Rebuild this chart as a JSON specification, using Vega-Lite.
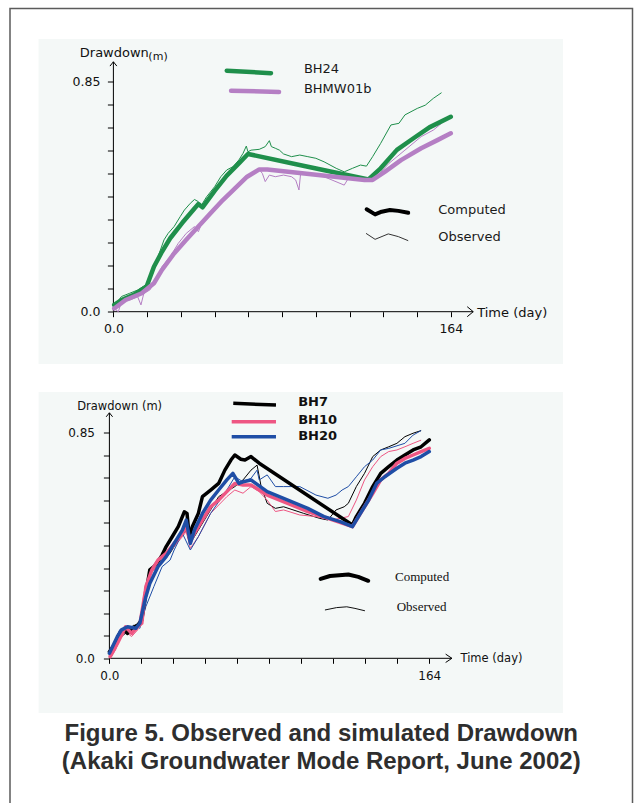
{
  "$schema": "https://vega.github.io/schema/vega-lite/v6.json",
  "width": 622.5,
  "height": 797.5,
  "autosize": {"type": "none"},
  "padding": {"left": 10, "top": 8.5, "right": 2.5, "bottom": -3},
  "background": "#ffffff",
  "title": {
    "text": ["Figure 5. Observed and simulated Drawdown", "(Akaki Groundwater Mode Report, June 2002)"],
    "orient": "bottom", "anchor": "middle", "frame": "group", "offset": -65,
    "baseline": "alphabetic", "font": "Liberation Sans", "fontSize": 24, "fontWeight": "bold",
    "color": "#2e2e2e", "lineHeight": 28.4
  },
  "config": {
    "view": {"stroke": "#5b5b5b", "strokeWidth": 1.5, "fill": "#ffffff"},
    "axis": {"grid": false, "domain": false, "ticks": true, "tickColor": "#000000", "tickWidth": 1, "labelColor": "#111111", "titleColor": "#111111", "labelFont": "DejaVu Sans", "titleFont": "DejaVu Sans", "titleFontWeight": "normal", "labelOverlap": false, "labelFlush": false, "titleAngle": 0, "titlePadding": 0}
  },
  "datasets": {
    "top": [
      {"well":"BH24","kind":"Computed","day":0.4,"dd":0.025},{"well":"BH24","kind":"Computed","day":3.9,"dd":0.043},{"well":"BH24","kind":"Computed","day":9.8,"dd":0.062},{"well":"BH24","kind":"Computed","day":16.1,"dd":0.092},{"well":"BH24","kind":"Computed","day":19.7,"dd":0.166},{"well":"BH24","kind":"Computed","day":23.6,"dd":0.221},{"well":"BH24","kind":"Computed","day":27.6,"dd":0.271},{"well":"BH24","kind":"Computed","day":33.5,"dd":0.328},{"well":"BH24","kind":"Computed","day":39.4,"dd":0.381},{"well":"BH24","kind":"Computed","day":41.3,"dd":0.397},{"well":"BH24","kind":"Computed","day":43.3,"dd":0.385},{"well":"BH24","kind":"Computed","day":49.2,"dd":0.446},{"well":"BH24","kind":"Computed","day":55.1,"dd":0.502},{"well":"BH24","kind":"Computed","day":61.0,"dd":0.547},{"well":"BH24","kind":"Computed","day":65.4,"dd":0.582},{"well":"BH24","kind":"Computed","day":94.5,"dd":0.535},{"well":"BH24","kind":"Computed","day":124.0,"dd":0.488},{"well":"BH24","kind":"Computed","day":129.9,"dd":0.529},{"well":"BH24","kind":"Computed","day":137.8,"dd":0.597},{"well":"BH24","kind":"Computed","day":145.7,"dd":0.639},{"well":"BH24","kind":"Computed","day":153.6,"dd":0.680},{"well":"BH24","kind":"Computed","day":164.0,"dd":0.719},
      {"well":"BH24","kind":"Observed","day":0,"dd":0.012},{"well":"BH24","kind":"Observed","day":2.0,"dd":0.037},{"well":"BH24","kind":"Observed","day":3.9,"dd":0.056},{"well":"BH24","kind":"Observed","day":7.9,"dd":0.068},{"well":"BH24","kind":"Observed","day":11.8,"dd":0.080},{"well":"BH24","kind":"Observed","day":14.8,"dd":0.095},{"well":"BH24","kind":"Observed","day":16.7,"dd":0.105},{"well":"BH24","kind":"Observed","day":18.7,"dd":0.148},{"well":"BH24","kind":"Observed","day":21.7,"dd":0.203},{"well":"BH24","kind":"Observed","day":24.6,"dd":0.265},{"well":"BH24","kind":"Observed","day":26.6,"dd":0.289},{"well":"BH24","kind":"Observed","day":29.5,"dd":0.314},{"well":"BH24","kind":"Observed","day":32.5,"dd":0.351},{"well":"BH24","kind":"Observed","day":34.5,"dd":0.375},{"well":"BH24","kind":"Observed","day":37.4,"dd":0.400},{"well":"BH24","kind":"Observed","day":39.4,"dd":0.414},{"well":"BH24","kind":"Observed","day":41.3,"dd":0.406},{"well":"BH24","kind":"Observed","day":42.3,"dd":0.387},{"well":"BH24","kind":"Observed","day":45.3,"dd":0.424},{"well":"BH24","kind":"Observed","day":49.2,"dd":0.461},{"well":"BH24","kind":"Observed","day":52.2,"dd":0.498},{"well":"BH24","kind":"Observed","day":55.1,"dd":0.523},{"well":"BH24","kind":"Observed","day":58.1,"dd":0.535},{"well":"BH24","kind":"Observed","day":61.0,"dd":0.560},{"well":"BH24","kind":"Observed","day":63.0,"dd":0.584},{"well":"BH24","kind":"Observed","day":64.6,"dd":0.611},{"well":"BH24","kind":"Observed","day":65.4,"dd":0.590},{"well":"BH24","kind":"Observed","day":66.9,"dd":0.596},{"well":"BH24","kind":"Observed","day":70.9,"dd":0.599},{"well":"BH24","kind":"Observed","day":73.8,"dd":0.609},{"well":"BH24","kind":"Observed","day":75.8,"dd":0.631},{"well":"BH24","kind":"Observed","day":76.8,"dd":0.609},{"well":"BH24","kind":"Observed","day":78.7,"dd":0.603},{"well":"BH24","kind":"Observed","day":80.7,"dd":0.596},{"well":"BH24","kind":"Observed","day":82.7,"dd":0.582},{"well":"BH24","kind":"Observed","day":86.6,"dd":0.572},{"well":"BH24","kind":"Observed","day":90.6,"dd":0.578},{"well":"BH24","kind":"Observed","day":94.5,"dd":0.572},{"well":"BH24","kind":"Observed","day":98.4,"dd":0.566},{"well":"BH24","kind":"Observed","day":102.4,"dd":0.553},{"well":"BH24","kind":"Observed","day":108.3,"dd":0.529},{"well":"BH24","kind":"Observed","day":112.2,"dd":0.516},{"well":"BH24","kind":"Observed","day":116.2,"dd":0.529},{"well":"BH24","kind":"Observed","day":120.1,"dd":0.541},{"well":"BH24","kind":"Observed","day":123.0,"dd":0.537},{"well":"BH24","kind":"Observed","day":126.0,"dd":0.572},{"well":"BH24","kind":"Observed","day":129.9,"dd":0.621},{"well":"BH24","kind":"Observed","day":134.9,"dd":0.689},{"well":"BH24","kind":"Observed","day":138.8,"dd":0.695},{"well":"BH24","kind":"Observed","day":141.7,"dd":0.726},{"well":"BH24","kind":"Observed","day":147.7,"dd":0.750},{"well":"BH24","kind":"Observed","day":151.6,"dd":0.762},{"well":"BH24","kind":"Observed","day":155.5,"dd":0.787},{"well":"BH24","kind":"Observed","day":159.5,"dd":0.808},
      {"well":"BHMW01b","kind":"Computed","day":0.4,"dd":0.012},{"well":"BHMW01b","kind":"Computed","day":5.9,"dd":0.043},{"well":"BHMW01b","kind":"Computed","day":13.8,"dd":0.068},{"well":"BHMW01b","kind":"Computed","day":19.7,"dd":0.105},{"well":"BHMW01b","kind":"Computed","day":23.6,"dd":0.154},{"well":"BHMW01b","kind":"Computed","day":29.5,"dd":0.215},{"well":"BHMW01b","kind":"Computed","day":35.4,"dd":0.265},{"well":"BHMW01b","kind":"Computed","day":41.3,"dd":0.314},{"well":"BHMW01b","kind":"Computed","day":47.2,"dd":0.363},{"well":"BHMW01b","kind":"Computed","day":53.2,"dd":0.412},{"well":"BHMW01b","kind":"Computed","day":59.1,"dd":0.455},{"well":"BHMW01b","kind":"Computed","day":65.0,"dd":0.498},{"well":"BHMW01b","kind":"Computed","day":70.9,"dd":0.525},{"well":"BHMW01b","kind":"Computed","day":74.8,"dd":0.525},{"well":"BHMW01b","kind":"Computed","day":122.1,"dd":0.486},{"well":"BHMW01b","kind":"Computed","day":126.0,"dd":0.486},{"well":"BHMW01b","kind":"Computed","day":131.9,"dd":0.516},{"well":"BHMW01b","kind":"Computed","day":139.8,"dd":0.559},{"well":"BHMW01b","kind":"Computed","day":149.6,"dd":0.603},{"well":"BHMW01b","kind":"Computed","day":157.5,"dd":0.633},{"well":"BHMW01b","kind":"Computed","day":164.0,"dd":0.658},
      {"well":"BHMW01b","kind":"Observed","day":0.4,"dd":0.012},{"well":"BHMW01b","kind":"Observed","day":2.4,"dd":0.000},{"well":"BHMW01b","kind":"Observed","day":3.9,"dd":0.037},{"well":"BHMW01b","kind":"Observed","day":7.9,"dd":0.043},{"well":"BHMW01b","kind":"Observed","day":11.8,"dd":0.055},{"well":"BHMW01b","kind":"Observed","day":13.4,"dd":0.025},{"well":"BHMW01b","kind":"Observed","day":14.8,"dd":0.068},{"well":"BHMW01b","kind":"Observed","day":17.7,"dd":0.080},{"well":"BHMW01b","kind":"Observed","day":20.7,"dd":0.117},{"well":"BHMW01b","kind":"Observed","day":23.6,"dd":0.166},{"well":"BHMW01b","kind":"Observed","day":27.6,"dd":0.203},{"well":"BHMW01b","kind":"Observed","day":31.5,"dd":0.252},{"well":"BHMW01b","kind":"Observed","day":35.4,"dd":0.289},{"well":"BHMW01b","kind":"Observed","day":39.4,"dd":0.314},{"well":"BHMW01b","kind":"Observed","day":41.3,"dd":0.295},{"well":"BHMW01b","kind":"Observed","day":42.3,"dd":0.314},{"well":"BHMW01b","kind":"Observed","day":47.2,"dd":0.363},{"well":"BHMW01b","kind":"Observed","day":53.2,"dd":0.412},{"well":"BHMW01b","kind":"Observed","day":59.1,"dd":0.455},{"well":"BHMW01b","kind":"Observed","day":65.0,"dd":0.498},{"well":"BHMW01b","kind":"Observed","day":70.9,"dd":0.525},{"well":"BHMW01b","kind":"Observed","day":72.4,"dd":0.510},{"well":"BHMW01b","kind":"Observed","day":73.8,"dd":0.480},{"well":"BHMW01b","kind":"Observed","day":75.8,"dd":0.504},{"well":"BHMW01b","kind":"Observed","day":78.7,"dd":0.498},{"well":"BHMW01b","kind":"Observed","day":82.7,"dd":0.504},{"well":"BHMW01b","kind":"Observed","day":86.6,"dd":0.498},{"well":"BHMW01b","kind":"Observed","day":88.6,"dd":0.486},{"well":"BHMW01b","kind":"Observed","day":90.2,"dd":0.449},{"well":"BHMW01b","kind":"Observed","day":91.0,"dd":0.510},{"well":"BHMW01b","kind":"Observed","day":94.5,"dd":0.510},{"well":"BHMW01b","kind":"Observed","day":102.4,"dd":0.498},{"well":"BHMW01b","kind":"Observed","day":112.2,"dd":0.467},{"well":"BHMW01b","kind":"Observed","day":114.2,"dd":0.492},{"well":"BHMW01b","kind":"Observed","day":122.1,"dd":0.486},{"well":"BHMW01b","kind":"Observed","day":128.0,"dd":0.498},{"well":"BHMW01b","kind":"Observed","day":133.9,"dd":0.547},{"well":"BHMW01b","kind":"Observed","day":141.7,"dd":0.596},{"well":"BHMW01b","kind":"Observed","day":149.6,"dd":0.646},{"well":"BHMW01b","kind":"Observed","day":155.5,"dd":0.670},{"well":"BHMW01b","kind":"Observed","day":159.5,"dd":0.695}
    ],
    "bottom": [
      {"well":"BH7","kind":"Computed","day":0,"dd":0.025},{"well":"BH7","kind":"Computed","day":3.1,"dd":0.056},{"well":"BH7","kind":"Computed","day":5.2,"dd":0.094},{"well":"BH7","kind":"Computed","day":7.2,"dd":0.107},{"well":"BH7","kind":"Computed","day":9.3,"dd":0.094},{"well":"BH7","kind":"Computed","day":11.4,"dd":0.113},{"well":"BH7","kind":"Computed","day":14.5,"dd":0.125},{"well":"BH7","kind":"Computed","day":16.6,"dd":0.144},{"well":"BH7","kind":"Computed","day":18.7,"dd":0.245},{"well":"BH7","kind":"Computed","day":20.7,"dd":0.333},{"well":"BH7","kind":"Computed","day":22.8,"dd":0.345},{"well":"BH7","kind":"Computed","day":24.9,"dd":0.364},{"well":"BH7","kind":"Computed","day":27.0,"dd":0.389},{"well":"BH7","kind":"Computed","day":29.1,"dd":0.421},{"well":"BH7","kind":"Computed","day":32.2,"dd":0.458},{"well":"BH7","kind":"Computed","day":35.3,"dd":0.496},{"well":"BH7","kind":"Computed","day":38.4,"dd":0.552},{"well":"BH7","kind":"Computed","day":39.8,"dd":0.546},{"well":"BH7","kind":"Computed","day":40.9,"dd":0.458},{"well":"BH7","kind":"Computed","day":42.5,"dd":0.496},{"well":"BH7","kind":"Computed","day":45.6,"dd":0.546},{"well":"BH7","kind":"Computed","day":47.7,"dd":0.609},{"well":"BH7","kind":"Computed","day":51.9,"dd":0.634},{"well":"BH7","kind":"Computed","day":56.0,"dd":0.659},{"well":"BH7","kind":"Computed","day":59.2,"dd":0.709},{"well":"BH7","kind":"Computed","day":62.3,"dd":0.747},{"well":"BH7","kind":"Computed","day":64.3,"dd":0.766},{"well":"BH7","kind":"Computed","day":67.4,"dd":0.750},{"well":"BH7","kind":"Computed","day":69.5,"dd":0.747},{"well":"BH7","kind":"Computed","day":72.6,"dd":0.760},{"well":"BH7","kind":"Computed","day":76.8,"dd":0.735},{"well":"BH7","kind":"Computed","day":124.6,"dd":0.502},{"well":"BH7","kind":"Computed","day":126.6,"dd":0.534},{"well":"BH7","kind":"Computed","day":130.8,"dd":0.584},{"well":"BH7","kind":"Computed","day":135.0,"dd":0.647},{"well":"BH7","kind":"Computed","day":139.1,"dd":0.697},{"well":"BH7","kind":"Computed","day":143.2,"dd":0.722},{"well":"BH7","kind":"Computed","day":147.4,"dd":0.747},{"well":"BH7","kind":"Computed","day":151.5,"dd":0.766},{"well":"BH7","kind":"Computed","day":155.7,"dd":0.785},{"well":"BH7","kind":"Computed","day":159.8,"dd":0.797},{"well":"BH7","kind":"Computed","day":164.0,"dd":0.823},
      {"well":"BH10","kind":"Computed","day":0.4,"dd":0.006},{"well":"BH10","kind":"Computed","day":4.1,"dd":0.056},{"well":"BH10","kind":"Computed","day":8.3,"dd":0.119},{"well":"BH10","kind":"Computed","day":11.4,"dd":0.094},{"well":"BH10","kind":"Computed","day":14.5,"dd":0.119},{"well":"BH10","kind":"Computed","day":16.6,"dd":0.132},{"well":"BH10","kind":"Computed","day":18.7,"dd":0.270},{"well":"BH10","kind":"Computed","day":21.8,"dd":0.333},{"well":"BH10","kind":"Computed","day":24.9,"dd":0.370},{"well":"BH10","kind":"Computed","day":29.1,"dd":0.395},{"well":"BH10","kind":"Computed","day":33.2,"dd":0.433},{"well":"BH10","kind":"Computed","day":37.4,"dd":0.471},{"well":"BH10","kind":"Computed","day":39.4,"dd":0.496},{"well":"BH10","kind":"Computed","day":41.5,"dd":0.440},{"well":"BH10","kind":"Computed","day":43.6,"dd":0.471},{"well":"BH10","kind":"Computed","day":47.7,"dd":0.521},{"well":"BH10","kind":"Computed","day":51.9,"dd":0.571},{"well":"BH10","kind":"Computed","day":56.0,"dd":0.596},{"well":"BH10","kind":"Computed","day":60.2,"dd":0.628},{"well":"BH10","kind":"Computed","day":64.3,"dd":0.659},{"well":"BH10","kind":"Computed","day":68.5,"dd":0.653},{"well":"BH10","kind":"Computed","day":72.6,"dd":0.653},{"well":"BH10","kind":"Computed","day":76.8,"dd":0.634},{"well":"BH10","kind":"Computed","day":80.9,"dd":0.615},{"well":"BH10","kind":"Computed","day":101.7,"dd":0.553},{"well":"BH10","kind":"Computed","day":124.6,"dd":0.496},{"well":"BH10","kind":"Computed","day":130.8,"dd":0.571},{"well":"BH10","kind":"Computed","day":135.0,"dd":0.621},{"well":"BH10","kind":"Computed","day":139.1,"dd":0.672},{"well":"BH10","kind":"Computed","day":143.2,"dd":0.697},{"well":"BH10","kind":"Computed","day":147.4,"dd":0.735},{"well":"BH10","kind":"Computed","day":151.5,"dd":0.753},{"well":"BH10","kind":"Computed","day":155.7,"dd":0.766},{"well":"BH10","kind":"Computed","day":159.8,"dd":0.779},{"well":"BH10","kind":"Computed","day":164.0,"dd":0.791},
      {"well":"BH20","kind":"Computed","day":0,"dd":0.019},{"well":"BH20","kind":"Computed","day":4.1,"dd":0.082},{"well":"BH20","kind":"Computed","day":6.2,"dd":0.107},{"well":"BH20","kind":"Computed","day":9.3,"dd":0.119},{"well":"BH20","kind":"Computed","day":13.5,"dd":0.113},{"well":"BH20","kind":"Computed","day":15.6,"dd":0.132},{"well":"BH20","kind":"Computed","day":18.7,"dd":0.232},{"well":"BH20","kind":"Computed","day":20.7,"dd":0.282},{"well":"BH20","kind":"Computed","day":24.9,"dd":0.345},{"well":"BH20","kind":"Computed","day":29.1,"dd":0.383},{"well":"BH20","kind":"Computed","day":33.2,"dd":0.433},{"well":"BH20","kind":"Computed","day":37.4,"dd":0.483},{"well":"BH20","kind":"Computed","day":39.4,"dd":0.521},{"well":"BH20","kind":"Computed","day":41.5,"dd":0.433},{"well":"BH20","kind":"Computed","day":43.6,"dd":0.483},{"well":"BH20","kind":"Computed","day":47.7,"dd":0.546},{"well":"BH20","kind":"Computed","day":51.9,"dd":0.596},{"well":"BH20","kind":"Computed","day":56.0,"dd":0.634},{"well":"BH20","kind":"Computed","day":60.2,"dd":0.672},{"well":"BH20","kind":"Computed","day":63.3,"dd":0.697},{"well":"BH20","kind":"Computed","day":66.4,"dd":0.659},{"well":"BH20","kind":"Computed","day":68.5,"dd":0.665},{"well":"BH20","kind":"Computed","day":72.6,"dd":0.672},{"well":"BH20","kind":"Computed","day":80.9,"dd":0.628},{"well":"BH20","kind":"Computed","day":89.3,"dd":0.603},{"well":"BH20","kind":"Computed","day":101.7,"dd":0.565},{"well":"BH20","kind":"Computed","day":110.0,"dd":0.534},{"well":"BH20","kind":"Computed","day":118.3,"dd":0.515},{"well":"BH20","kind":"Computed","day":124.6,"dd":0.496},{"well":"BH20","kind":"Computed","day":128.7,"dd":0.546},{"well":"BH20","kind":"Computed","day":132.9,"dd":0.596},{"well":"BH20","kind":"Computed","day":137.0,"dd":0.659},{"well":"BH20","kind":"Computed","day":141.2,"dd":0.684},{"well":"BH20","kind":"Computed","day":147.4,"dd":0.716},{"well":"BH20","kind":"Computed","day":151.5,"dd":0.735},{"well":"BH20","kind":"Computed","day":155.7,"dd":0.747},{"well":"BH20","kind":"Computed","day":159.8,"dd":0.760},{"well":"BH20","kind":"Computed","day":164.0,"dd":0.779},
      {"well":"BH7","kind":"Observed","day":0,"dd":0.012},{"well":"BH7","kind":"Observed","day":3.1,"dd":0.044},{"well":"BH7","kind":"Observed","day":6.2,"dd":0.082},{"well":"BH7","kind":"Observed","day":10.4,"dd":0.107},{"well":"BH7","kind":"Observed","day":14.5,"dd":0.113},{"well":"BH7","kind":"Observed","day":17.6,"dd":0.182},{"well":"BH7","kind":"Observed","day":19.7,"dd":0.257},{"well":"BH7","kind":"Observed","day":22.8,"dd":0.320},{"well":"BH7","kind":"Observed","day":27.0,"dd":0.364},{"well":"BH7","kind":"Observed","day":31.1,"dd":0.396},{"well":"BH7","kind":"Observed","day":35.3,"dd":0.446},{"well":"BH7","kind":"Observed","day":39.4,"dd":0.483},{"well":"BH7","kind":"Observed","day":41.5,"dd":0.433},{"well":"BH7","kind":"Observed","day":45.6,"dd":0.483},{"well":"BH7","kind":"Observed","day":49.8,"dd":0.534},{"well":"BH7","kind":"Observed","day":56.0,"dd":0.609},{"well":"BH7","kind":"Observed","day":64.3,"dd":0.647},{"well":"BH7","kind":"Observed","day":68.5,"dd":0.672},{"well":"BH7","kind":"Observed","day":72.6,"dd":0.709},{"well":"BH7","kind":"Observed","day":75.7,"dd":0.728},{"well":"BH7","kind":"Observed","day":77.8,"dd":0.647},{"well":"BH7","kind":"Observed","day":80.9,"dd":0.584},{"well":"BH7","kind":"Observed","day":85.1,"dd":0.565},{"well":"BH7","kind":"Observed","day":89.3,"dd":0.571},{"well":"BH7","kind":"Observed","day":99.6,"dd":0.546},{"well":"BH7","kind":"Observed","day":107.9,"dd":0.527},{"well":"BH7","kind":"Observed","day":112.0,"dd":0.521},{"well":"BH7","kind":"Observed","day":116.2,"dd":0.559},{"well":"BH7","kind":"Observed","day":120.4,"dd":0.571},{"well":"BH7","kind":"Observed","day":122.5,"dd":0.584},{"well":"BH7","kind":"Observed","day":126.6,"dd":0.647},{"well":"BH7","kind":"Observed","day":130.8,"dd":0.697},{"well":"BH7","kind":"Observed","day":135.0,"dd":0.760},{"well":"BH7","kind":"Observed","day":139.1,"dd":0.785},{"well":"BH7","kind":"Observed","day":143.2,"dd":0.797},{"well":"BH7","kind":"Observed","day":147.4,"dd":0.810},{"well":"BH7","kind":"Observed","day":151.5,"dd":0.835},{"well":"BH7","kind":"Observed","day":155.7,"dd":0.848},{"well":"BH7","kind":"Observed","day":159.8,"dd":0.858},
      {"well":"BH10","kind":"Observed","day":0.4,"dd":0.000},{"well":"BH10","kind":"Observed","day":3.1,"dd":0.031},{"well":"BH10","kind":"Observed","day":5.2,"dd":0.069},{"well":"BH10","kind":"Observed","day":8.3,"dd":0.100},{"well":"BH10","kind":"Observed","day":11.4,"dd":0.082},{"well":"BH10","kind":"Observed","day":14.5,"dd":0.107},{"well":"BH10","kind":"Observed","day":17.6,"dd":0.245},{"well":"BH10","kind":"Observed","day":20.7,"dd":0.320},{"well":"BH10","kind":"Observed","day":24.9,"dd":0.345},{"well":"BH10","kind":"Observed","day":29.1,"dd":0.383},{"well":"BH10","kind":"Observed","day":33.2,"dd":0.421},{"well":"BH10","kind":"Observed","day":37.4,"dd":0.458},{"well":"BH10","kind":"Observed","day":39.4,"dd":0.477},{"well":"BH10","kind":"Observed","day":41.5,"dd":0.414},{"well":"BH10","kind":"Observed","day":45.6,"dd":0.458},{"well":"BH10","kind":"Observed","day":51.9,"dd":0.546},{"well":"BH10","kind":"Observed","day":60.2,"dd":0.609},{"well":"BH10","kind":"Observed","day":64.3,"dd":0.634},{"well":"BH10","kind":"Observed","day":68.5,"dd":0.622},{"well":"BH10","kind":"Observed","day":72.6,"dd":0.647},{"well":"BH10","kind":"Observed","day":76.8,"dd":0.628},{"well":"BH10","kind":"Observed","day":80.9,"dd":0.596},{"well":"BH10","kind":"Observed","day":85.1,"dd":0.553},{"well":"BH10","kind":"Observed","day":89.3,"dd":0.559},{"well":"BH10","kind":"Observed","day":97.6,"dd":0.540},{"well":"BH10","kind":"Observed","day":105.9,"dd":0.534},{"well":"BH10","kind":"Observed","day":114.2,"dd":0.521},{"well":"BH10","kind":"Observed","day":122.5,"dd":0.534},{"well":"BH10","kind":"Observed","day":126.6,"dd":0.596},{"well":"BH10","kind":"Observed","day":130.8,"dd":0.672},{"well":"BH10","kind":"Observed","day":135.0,"dd":0.722},{"well":"BH10","kind":"Observed","day":139.1,"dd":0.760},{"well":"BH10","kind":"Observed","day":143.2,"dd":0.779},{"well":"BH10","kind":"Observed","day":147.4,"dd":0.785},{"well":"BH10","kind":"Observed","day":151.5,"dd":0.797},{"well":"BH10","kind":"Observed","day":155.7,"dd":0.810},{"well":"BH10","kind":"Observed","day":159.8,"dd":0.822},
      {"well":"BH20","kind":"Observed","day":0,"dd":0.025},{"well":"BH20","kind":"Observed","day":3.1,"dd":0.056},{"well":"BH20","kind":"Observed","day":5.2,"dd":0.107},{"well":"BH20","kind":"Observed","day":8.3,"dd":0.094},{"well":"BH20","kind":"Observed","day":12.4,"dd":0.125},{"well":"BH20","kind":"Observed","day":15.6,"dd":0.113},{"well":"BH20","kind":"Observed","day":18.7,"dd":0.195},{"well":"BH20","kind":"Observed","day":22.8,"dd":0.270},{"well":"BH20","kind":"Observed","day":27.0,"dd":0.345},{"well":"BH20","kind":"Observed","day":31.1,"dd":0.370},{"well":"BH20","kind":"Observed","day":33.2,"dd":0.408},{"well":"BH20","kind":"Observed","day":37.4,"dd":0.471},{"well":"BH20","kind":"Observed","day":41.5,"dd":0.408},{"well":"BH20","kind":"Observed","day":45.6,"dd":0.458},{"well":"BH20","kind":"Observed","day":51.9,"dd":0.546},{"well":"BH20","kind":"Observed","day":60.2,"dd":0.634},{"well":"BH20","kind":"Observed","day":64.3,"dd":0.684},{"well":"BH20","kind":"Observed","day":68.5,"dd":0.665},{"well":"BH20","kind":"Observed","day":72.6,"dd":0.678},{"well":"BH20","kind":"Observed","day":75.7,"dd":0.709},{"well":"BH20","kind":"Observed","day":76.8,"dd":0.672},{"well":"BH20","kind":"Observed","day":80.9,"dd":0.691},{"well":"BH20","kind":"Observed","day":85.1,"dd":0.647},{"well":"BH20","kind":"Observed","day":89.3,"dd":0.647},{"well":"BH20","kind":"Observed","day":97.6,"dd":0.647},{"well":"BH20","kind":"Observed","day":105.9,"dd":0.615},{"well":"BH20","kind":"Observed","day":112.0,"dd":0.603},{"well":"BH20","kind":"Observed","day":116.2,"dd":0.615},{"well":"BH20","kind":"Observed","day":119.3,"dd":0.634},{"well":"BH20","kind":"Observed","day":122.5,"dd":0.647},{"well":"BH20","kind":"Observed","day":126.6,"dd":0.684},{"well":"BH20","kind":"Observed","day":130.8,"dd":0.722},{"well":"BH20","kind":"Observed","day":135.0,"dd":0.747},{"well":"BH20","kind":"Observed","day":139.1,"dd":0.785},{"well":"BH20","kind":"Observed","day":143.2,"dd":0.791},{"well":"BH20","kind":"Observed","day":151.5,"dd":0.810},{"well":"BH20","kind":"Observed","day":155.7,"dd":0.841},{"well":"BH20","kind":"Observed","day":159.8,"dd":0.858}
    ],
    "topKeys": [
      {"item":"BH24","day":55.1,"dd":0.889},{"item":"BH24","day":76.6,"dd":0.880},
      {"item":"BHMW01b","day":57.2,"dd":0.815},{"item":"BHMW01b","day":80.5,"dd":0.811},
      {"item":"Computed","day":123.1,"dd":0.378},{"item":"Computed","day":127.2,"dd":0.359},{"item":"Computed","day":130.4,"dd":0.369},{"item":"Computed","day":134.4,"dd":0.375},{"item":"Computed","day":138.5,"dd":0.372},{"item":"Computed","day":143.3,"dd":0.365},
      {"item":"Observed","day":122.8,"dd":0.289},{"item":"Observed","day":127.2,"dd":0.267},{"item":"Observed","day":133.6,"dd":0.287},{"item":"Observed","day":138.5,"dd":0.277},{"item":"Observed","day":143.3,"dd":0.262}
    ],
    "topLabels": [
      {"label":"BH24","day":92.6,"dd":0.895},{"label":"BHMW01b","day":92.6,"dd":0.820},
      {"label":"Computed","day":157.9,"dd":0.375},{"label":"Observed","day":157.9,"dd":0.274}
    ],
    "bottomKeys": [
      {"item":"BH7","day":63.5,"dd":0.961},{"item":"BH7","day":85.4,"dd":0.954},
      {"item":"BH10","day":62.7,"dd":0.891},{"item":"BH10","day":85.4,"dd":0.891},
      {"item":"BH20","day":62.7,"dd":0.835},{"item":"BH20","day":85.4,"dd":0.835},
      {"item":"Computed","day":108.3,"dd":0.299},{"item":"Computed","day":113.1,"dd":0.310},{"item":"Computed","day":122.5,"dd":0.316},{"item":"Computed","day":127.6,"dd":0.307},{"item":"Computed","day":132.7,"dd":0.292},
      {"item":"Observed","day":110.5,"dd":0.182},{"item":"Observed","day":116.5,"dd":0.191},{"item":"Observed","day":121.7,"dd":0.194},{"item":"Observed","day":125.9,"dd":0.188},{"item":"Observed","day":131.0,"dd":0.179}
    ],
    "bottomWellLabels": [
      {"label":"BH7","day":96.8,"dd":0.967},{"label":"BH10","day":96.8,"dd":0.899},{"label":"BH20","day":96.8,"dd":0.839}
    ],
    "bottomKindLabels": [
      {"label":"Computed","day":146.4,"dd":0.307},{"label":"Observed","day":147.3,"dd":0.194}
    ]
  },
  "resolve": {"scale": {"x": "independent", "y": "independent"}, "axis": {"x": "independent", "y": "independent"}},
  "layer": [
    {
      "layer": [
        {
          "data": {"values": [{"x0": -36.4, "x1": 218.5, "y0": -0.193, "y1": 1.006}]},
          "mark": {"type": "rect", "fill": "#f4f8f7"},
          "encoding": {
            "x": {"field": "x0", "type": "quantitative", "scale": {"domain": [-50.26, 252.32], "nice": false, "zero": false},
              "axis": {"orient": "bottom", "zindex": 1, "offset": -494.3, "values": [0, 16.4, 32.8, 49.2, 65.6, 82, 98.4, 114.8, 131.2, 147.6, 164], "labelExpr": "datum.value == 0 ? '0.0' : (datum.value == 164 ? '164' : '')", "tickSize": 5, "labelFontSize": 12.5, "labelPadding": 6, "title": "Time (day)", "titleX": 466.7, "titleY": 5, "titleAlign": "left", "titleBaseline": "alphabetic", "titleFontSize": 13}},
            "x2": {"field": "x1"},
            "y": {"field": "y0", "type": "quantitative", "scale": {"domain": [-1.8236, 1.1186], "nice": false, "zero": false},
              "axis": {"orient": "left", "zindex": 1, "offset": -103.4, "values": [0, 0.085, 0.17, 0.255, 0.34, 0.425, 0.51, 0.595, 0.68, 0.765, 0.85], "labelExpr": "datum.value == 0 ? '0.0' : (datum.value > 0.84 ? '0.85' : '')", "tickSize": 6, "labelFontSize": 12.5, "labelPadding": 7.5, "title": "Drawdown", "titleX": -34.1, "titleY": 48.2, "titleAlign": "left", "titleBaseline": "alphabetic", "titleFontSize": 13}},
            "y2": {"field": "y1"}
          }
        },
        {"data": {"values": [{}]}, "mark": {"type": "rule", "color": "#000000", "strokeWidth": 1}, "encoding": {"x": {"datum": 0}, "y": {"datum": 0}, "y2": {"datum": 0.922}}},
        {"data": {"values": [{}]}, "mark": {"type": "rule", "color": "#000000", "strokeWidth": 1}, "encoding": {"x": {"datum": 0}, "x2": {"datum": 174.9}, "y": {"datum": 0}}},
        {"data": {"values": [{}]}, "mark": {"type": "point", "shape": "M-0.8,1L0,0L0.8,1", "size": 74, "filled": false, "stroke": "#000000", "strokeWidth": 1, "opacity": 1}, "encoding": {"x": {"datum": 0}, "y": {"datum": 0.922}}},
        {"data": {"values": [{}]}, "mark": {"type": "point", "shape": "M-1.2,-1L0,0L-1.2,1", "size": 100, "filled": false, "stroke": "#000000", "strokeWidth": 1, "opacity": 1}, "encoding": {"x": {"datum": 174.9}, "y": {"datum": 0}}},
        {"data": {"values": [{"label": "(m)", "day": 17.0, "dd": 0.94}]}, "mark": {"type": "text", "align": "left", "baseline": "middle", "font": "DejaVu Sans", "fontSize": 11, "color": "#111111"}, "encoding": {"x": {"field": "day", "type": "quantitative"}, "y": {"field": "dd", "type": "quantitative"}, "text": {"field": "label"}}},
        {
          "data": {"name": "top"}, "transform": [{"filter": "datum.kind == 'Observed'"}],
          "mark": {"type": "line", "strokeWidth": 1},
          "encoding": {"x": {"field": "day", "type": "quantitative"}, "y": {"field": "dd", "type": "quantitative"},
            "color": {"field": "well", "type": "nominal", "scale": {"domain": ["BH24", "BHMW01b", "BH7", "BH10", "BH20"], "range": ["#1f8f4b", "#b57fc4", "#000000", "#ee5683", "#1f4ea6"]}, "legend": null}}
        },
        {
          "data": {"name": "top"}, "transform": [{"filter": "datum.kind == 'Computed'"}],
          "mark": {"type": "line", "strokeWidth": 4.5, "strokeCap": "round", "strokeJoin": "round"},
          "encoding": {"x": {"field": "day", "type": "quantitative"}, "y": {"field": "dd", "type": "quantitative"},
            "color": {"field": "well", "type": "nominal", "legend": null}}
        },
        {
          "data": {"name": "topKeys"}, "transform": [{"filter": "datum.item != 'Computed' && datum.item != 'Observed'"}],
          "mark": {"type": "line", "strokeWidth": 4.5, "strokeCap": "round"},
          "encoding": {"x": {"field": "day", "type": "quantitative"}, "y": {"field": "dd", "type": "quantitative"},
            "color": {"field": "item", "type": "nominal", "legend": null}}
        },
        {
          "data": {"name": "topKeys"}, "transform": [{"filter": "datum.item == 'Computed'"}],
          "mark": {"type": "line", "strokeWidth": 4, "color": "#000000", "strokeCap": "round", "strokeJoin": "round"},
          "encoding": {"x": {"field": "day", "type": "quantitative"}, "y": {"field": "dd", "type": "quantitative"}, "detail": {"field": "item"}}
        },
        {
          "data": {"name": "topKeys"}, "transform": [{"filter": "datum.item == 'Observed'"}],
          "mark": {"type": "line", "strokeWidth": 1, "color": "#333333"},
          "encoding": {"x": {"field": "day", "type": "quantitative"}, "y": {"field": "dd", "type": "quantitative"}, "detail": {"field": "item"}}
        },
        {
          "data": {"name": "topLabels"},
          "mark": {"type": "text", "align": "left", "baseline": "middle", "font": "DejaVu Sans", "fontSize": 13, "color": "#1a1a1a"},
          "encoding": {"x": {"field": "day", "type": "quantitative"}, "y": {"field": "dd", "type": "quantitative"}, "text": {"field": "label"}}
        }
      ]
    },
    {
      "layer": [
        {
          "data": {"values": [{"x0": -36.3, "x1": 232.5, "y0": -0.206, "y1": 1.003}]},
          "mark": {"type": "rect", "fill": "#f4f8f7"},
          "encoding": {
            "x": {"field": "x0", "type": "quantitative", "scale": {"domain": [-50.96, 268.18], "nice": false, "zero": false},
              "axis": {"orient": "bottom", "zindex": 1, "offset": -147.7, "values": [0, 16.4, 32.8, 49.2, 65.6, 82, 98.4, 114.8, 131.2, 147.6, 164], "labelExpr": "datum.value == 0 ? '0.0' : (datum.value == 164 ? '164' : '')", "tickSize": 5, "labelFontSize": 12, "labelPadding": 7, "title": "Time (day)", "titleX": 450, "titleY": 3.4, "titleAlign": "left", "titleBaseline": "alphabetic", "titleFontSize": 11.5}},
            "x2": {"field": "x1"},
            "y": {"field": "y0", "type": "quantitative", "scale": {"domain": [-0.5565, 2.4483], "nice": false, "zero": false},
              "axis": {"orient": "left", "zindex": 1, "offset": -99.4, "values": [0, 0.085, 0.17, 0.255, 0.34, 0.425, 0.51, 0.595, 0.68, 0.765, 0.85], "labelExpr": "datum.value == 0 ? '0.0' : (datum.value > 0.84 ? '0.85' : '')", "tickSize": 6, "labelFontSize": 12, "labelPadding": 9, "title": "Drawdown (m)", "titleX": -32.7, "titleY": 400.5, "titleAlign": "left", "titleBaseline": "alphabetic", "titleFontSize": 11.5}},
            "y2": {"field": "y1"}
          }
        },
        {"data": {"values": [{}]}, "mark": {"type": "rule", "color": "#000000", "strokeWidth": 1}, "encoding": {"x": {"datum": 0}, "y": {"datum": 0}, "y2": {"datum": 0.925}}},
        {"data": {"values": [{}]}, "mark": {"type": "rule", "color": "#000000", "strokeWidth": 1}, "encoding": {"x": {"datum": 0}, "x2": {"datum": 175.6}, "y": {"datum": 0}}},
        {"data": {"values": [{}]}, "mark": {"type": "point", "shape": "M-0.8,1L0,0L0.8,1", "size": 64, "filled": false, "stroke": "#000000", "strokeWidth": 1, "opacity": 1}, "encoding": {"x": {"datum": 0}, "y": {"datum": 0.925}}},
        {"data": {"values": [{}]}, "mark": {"type": "point", "shape": "M-1.5,-1L0,0L-1.5,1", "size": 70, "filled": false, "stroke": "#000000", "strokeWidth": 1, "opacity": 1}, "encoding": {"x": {"datum": 175.6}, "y": {"datum": 0}}},
        {
          "data": {"name": "bottom"}, "transform": [{"filter": "datum.kind == 'Observed'"}],
          "mark": {"type": "line", "strokeWidth": 1},
          "encoding": {"x": {"field": "day", "type": "quantitative"}, "y": {"field": "dd", "type": "quantitative"},
            "color": {"field": "well", "type": "nominal", "legend": null}}
        },
        {
          "data": {"name": "bottom"}, "transform": [{"filter": "datum.kind == 'Computed'"}],
          "mark": {"type": "line", "strokeWidth": 3.5, "strokeCap": "round", "strokeJoin": "round"},
          "encoding": {"x": {"field": "day", "type": "quantitative"}, "y": {"field": "dd", "type": "quantitative"},
            "color": {"field": "well", "type": "nominal", "legend": null}}
        },
        {
          "data": {"name": "bottomKeys"}, "transform": [{"filter": "datum.item != 'Computed' && datum.item != 'Observed'"}],
          "mark": {"type": "line", "strokeWidth": 3.5},
          "encoding": {"x": {"field": "day", "type": "quantitative"}, "y": {"field": "dd", "type": "quantitative"},
            "color": {"field": "item", "type": "nominal", "legend": null}}
        },
        {
          "data": {"name": "bottomKeys"}, "transform": [{"filter": "datum.item == 'Computed'"}],
          "mark": {"type": "line", "strokeWidth": 4, "color": "#000000", "strokeCap": "round", "strokeJoin": "round"},
          "encoding": {"x": {"field": "day", "type": "quantitative"}, "y": {"field": "dd", "type": "quantitative"}, "detail": {"field": "item"}}
        },
        {
          "data": {"name": "bottomKeys"}, "transform": [{"filter": "datum.item == 'Observed'"}],
          "mark": {"type": "line", "strokeWidth": 1, "color": "#111111"},
          "encoding": {"x": {"field": "day", "type": "quantitative"}, "y": {"field": "dd", "type": "quantitative"}, "detail": {"field": "item"}}
        },
        {
          "data": {"name": "bottomWellLabels"},
          "mark": {"type": "text", "align": "left", "baseline": "middle", "font": "DejaVu Sans", "fontWeight": "bold", "fontSize": 13, "color": "#111111"},
          "encoding": {"x": {"field": "day", "type": "quantitative"}, "y": {"field": "dd", "type": "quantitative"}, "text": {"field": "label"}}
        },
        {
          "data": {"name": "bottomKindLabels"},
          "mark": {"type": "text", "align": "left", "baseline": "middle", "font": "Liberation Serif", "fontSize": 13, "color": "#111111"},
          "encoding": {"x": {"field": "day", "type": "quantitative"}, "y": {"field": "dd", "type": "quantitative"}, "text": {"field": "label"}}
        }
      ]
    }
  ]
}
